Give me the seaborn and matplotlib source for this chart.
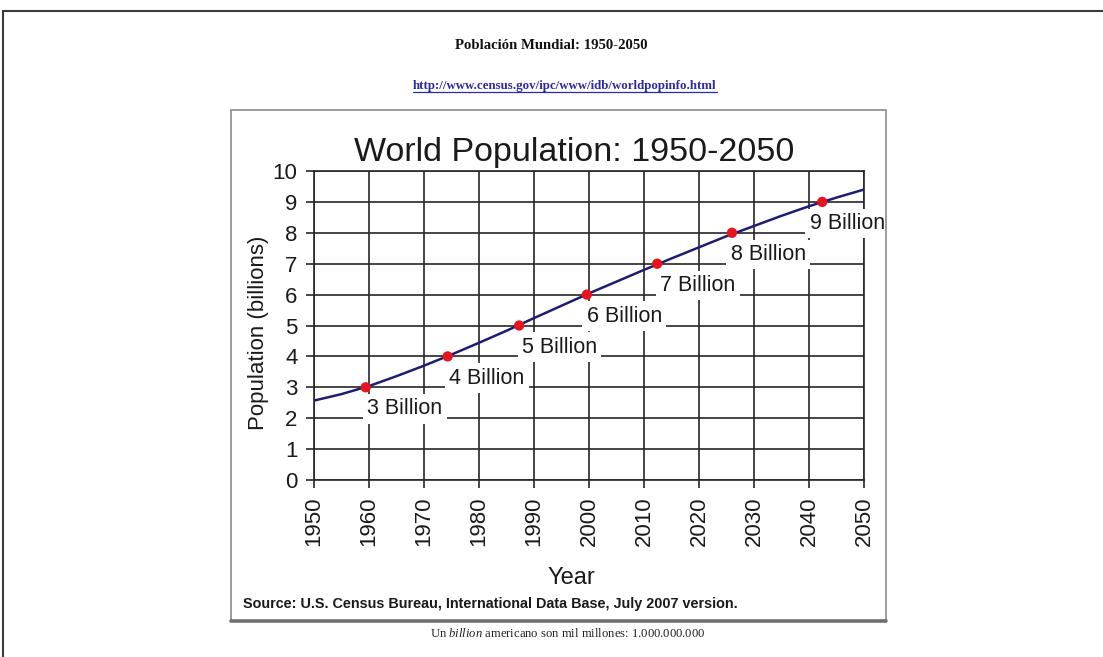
import matplotlib
matplotlib.use("Agg")
import matplotlib.pyplot as plt
from matplotlib import font_manager
from matplotlib.lines import Line2D
from matplotlib.patches import Rectangle
import seaborn as sns

# World population (billions), Census Bureau IDB, July 2007
YEARS = [1950, 1955, 1960, 1965, 1970, 1975, 1980, 1985, 1990, 1995, 2000,
         2005, 2010, 2015, 2020, 2025, 2030, 2035, 2040, 2045, 2050]
POPULATION = [2.57, 2.78, 3.04, 3.36, 3.70, 4.06, 4.44, 4.83, 5.24, 5.64, 6.04,
              6.42, 6.80, 7.17, 7.53, 7.89, 8.22, 8.55, 8.86, 9.14, 9.40]

# Years in which each additional billion is reached
MILESTONE_YEARS = [1959.4, 1974.3, 1987.3, 1999.6, 2012.4, 2026.0, 2042.4]
MILESTONE_POP = [3, 4, 5, 6, 7, 8, 9]

X_TICKS = list(range(1950, 2051, 10))
Y_TICKS = list(range(0, 11))

HEADER = "Población Mundial: 1950-2050"
URL = "http://www.census.gov/ipc/www/idb/worldpopinfo.html"
TITLE = "World Population: 1950-2050"
SOURCE = "Source: U.S. Census Bureau, International Data Base, July 2007 version."
FOOTNOTE = r"Un $\mathit{billion}$ americano son mil millones: 1.000.000.000"

sns.set_theme(style="ticks")
plt.rcParams["font.family"] = ["Liberation Sans", "DejaVu Sans"]
plt.rcParams["mathtext.fontset"] = "custom"
plt.rcParams["mathtext.rm"] = "Liberation Serif"
plt.rcParams["mathtext.it"] = "Liberation Serif:italic"

available = {f.name for f in font_manager.fontManager.ttflist}
if "Liberation Sans Narrow" in available:
    source_font, source_size = "Liberation Sans Narrow", 10.8
else:
    source_font, source_size = "Liberation Sans", 10.4

W, H = 1103, 657
fig = plt.figure(figsize=(W / 100, H / 100), dpi=100)
fig.patch.set_facecolor("white")


def fx(px):
    return px / W


def fy(py):
    return 1 - py / H


# page frame
fig.add_artist(Line2D([fx(3), 1], [fy(11), fy(11)], transform=fig.transFigure,
                      color="#3a3a3a", lw=1.5))
fig.add_artist(Line2D([fx(3), fx(3)], [0, fy(11)], transform=fig.transFigure,
                      color="#3a3a3a", lw=1.5))

# chart panel frame with its shadowed bottom edge
fig.add_artist(Rectangle((fx(231), fy(621)), fx(886) - fx(231), fy(110) - fy(621),
                         transform=fig.transFigure, fill=False, ec="#8a8a8a", lw=1.2))
fig.add_artist(Line2D([fx(231), fx(886)], [fy(621), fy(621)], transform=fig.transFigure,
                      color="#6e6e6e", lw=2.6))

# page header
fig.text(fx(551), fy(49), HEADER, ha="center", va="baseline",
         family="Liberation Serif", weight="bold", fontsize=10.6, color="#111111")
url_text = fig.text(fx(565), fy(89), URL, ha="center", va="baseline",
                    family="Liberation Serif", weight="bold", fontsize=9.3, color="#2b2ba6")

ax = fig.add_axes([fx(314), fy(480), fx(864) - fx(314), fy(171) - fy(480)])

sns.lineplot(x=YEARS, y=POPULATION, ax=ax, color="#1d1d74", lw=1.8, zorder=4)
sns.scatterplot(x=MILESTONE_YEARS, y=MILESTONE_POP, ax=ax, color="#e8131c",
                s=55, edgecolor="none", zorder=5)

# horizontal offset (points) of each milestone label from its marker
label_dx = [1, 1, 2, 0, 2, -1, -9]
for yr, pop, dx in zip(MILESTONE_YEARS, MILESTONE_POP, label_dx):
    ax.annotate(f"{pop:g} Billion", xy=(yr, pop), xytext=(dx, -8),
                textcoords="offset points", ha="left", va="top",
                fontsize=15.5, color="#1a1a1a", zorder=3,
                bbox=dict(boxstyle="square,pad=0.2", fc="white", ec="none"))

ax.set_xlim(1950, 2050)
ax.set_ylim(0, 10)
ax.set_xticks(X_TICKS)
ax.set_yticks(Y_TICKS)
ax.set_axisbelow(True)
ax.grid(True, color="#262626", lw=1.2)
for side in ["left", "bottom", "top", "right"]:
    ax.spines[side].set_visible(True)
    ax.spines[side].set_color("#262626")
    ax.spines[side].set_linewidth(1.2)
ax.tick_params(axis="both", direction="out", length=5.8, width=1.2, color="#262626",
               labelsize=16, labelcolor="#1a1a1a")
ax.tick_params(axis="x", rotation=90, pad=6)
ax.tick_params(axis="y", pad=6)

ax.set_xlabel("Year", fontsize=17, color="#1a1a1a")
ax.set_ylabel("Population (billions)", fontsize=16, color="#1a1a1a")
ax.xaxis.set_label_coords((571 - 314) / 550, -(567 - 480) / 309)
ax.yaxis.set_label_coords((269 - 314) / 550, (480 - 333) / 309)

fig.text(fx(574), fy(161), TITLE, ha="center", va="baseline",
         fontsize=24.5, color="#1a1a1a")

fig.text(fx(243), fy(608), SOURCE, ha="left", va="baseline",
         family=source_font, weight="bold", fontsize=source_size, color="#1a1a1a")

fig.text(fx(568), fy(637), FOOTNOTE, ha="center", va="baseline",
         family="Liberation Serif", fontsize=9.1, color="#222222")

# underline the link
fig.canvas.draw()
bb = url_text.get_window_extent()
fig.add_artist(Line2D([bb.x0 / W, bb.x1 / W], [fy(91.5), fy(91.5)],
                      transform=fig.transFigure, color="#2b2ba6", lw=0.9))

fig.savefig("out.png", dpi=100, facecolor="white")
